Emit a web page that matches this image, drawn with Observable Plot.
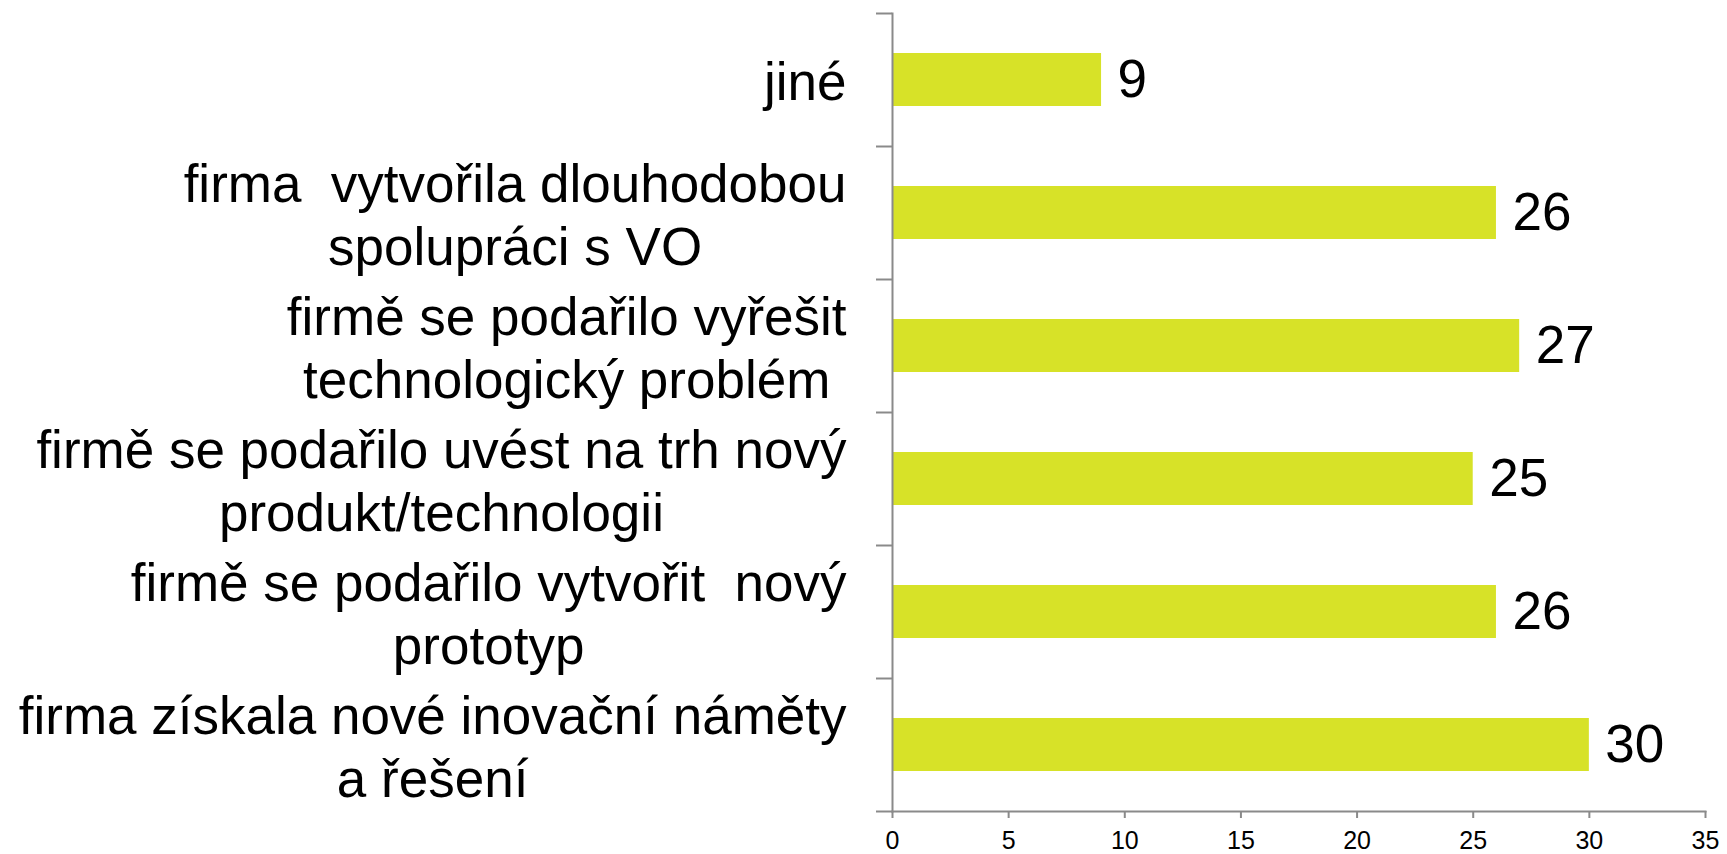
<!DOCTYPE html>
<html>
<head>
<meta charset="utf-8">
<script src="https://cdn.jsdelivr.net/npm/d3@7"></script>
<script src="https://cdn.jsdelivr.net/npm/@observablehq/plot@0.6"></script>
<style>
  body { margin: 0; background: #ffffff; }
  svg text { white-space: pre; }
</style>
</head>
<body>
<div id="chart"></div>
<script>
// Categories (top to bottom) and values
const categories = [
  "jiné",
  "firma  vytvořila dlouhodobou\nspolupráci s VO",
  "firmě se podařilo vyřešit\ntechnologický problém",
  "firmě se podařilo uvést na trh nový\nprodukt/technologii",
  "firmě se podařilo vytvořit  nový\nprototyp",
  "firma získala nové inovační náměty\na řešení"
];
const values = [9, 26, 27, 25, 26, 30];
const xTicks = [0, 5, 10, 15, 20, 25, 30, 35];

const data = categories.map((c, i) => ({ category: c, value: values[i] }));

const FONT = "'Liberation Sans', Arial, sans-serif";
const W = 1727, H = 854;
const mLeft = 892, mRight = 22, mTop = 13, mBottom = 43;
const labelSize = 53;
const band = (H - mTop - mBottom) / categories.length;
const axisColor = "#8a8a8a";
const barColor = "#d7e228";
const labelGap = 46;

const ctx = document.createElement("canvas").getContext("2d");
ctx.font = `${labelSize}px 'Liberation Sans'`;
const blockWidth = t => Math.max(...t.split("\n").map(l => ctx.measureText(l).width));

const chart = Plot.plot({
  width: W,
  height: H,
  marginLeft: mLeft,
  marginRight: mRight,
  marginTop: mTop,
  marginBottom: mBottom,
  style: { fontFamily: FONT, background: "#ffffff", color: "#000000" },
  x: { domain: [0, 35], axis: null },
  y: { domain: categories, padding: 0, axis: null },
  marks: [
    Plot.barX(data, {
      x: "value", y: "category", fill: barColor,
      insetTop: 40, insetBottom: 40
    }),
    Plot.frame({ anchor: "left", stroke: axisColor, strokeWidth: 2 }),
    Plot.frame({ anchor: "bottom", stroke: axisColor, strokeWidth: 2 }),
    // category boundary ticks on the vertical axis
    Plot.axisY(categories, {
      anchor: "left", tickSize: 16, text: null, label: null,
      dy: -band / 2, stroke: axisColor, strokeWidth: 2
    }),
    Plot.axisY([categories[categories.length - 1]], {
      anchor: "left", tickSize: 16, text: null, label: null,
      dy: band / 2, stroke: axisColor, strokeWidth: 2
    }),
    Plot.axisX(xTicks, {
      anchor: "bottom", tickSize: 7, tickPadding: 13, fontSize: 25,
      stroke: axisColor, strokeWidth: 2, fill: "#000000", label: null
    }),
    // value labels
    Plot.text(data, {
      x: "value", y: "category", text: d => String(d.value),
      textAnchor: "start", dx: 16, fontSize: labelSize, fill: "#000000"
    }),
    // category labels, lines centred within a right-aligned block
    ...categories.map(c => Plot.text([c], {
      frameAnchor: "left", y: d => d, text: d => d,
      textAnchor: "middle", lineHeight: 1.19, fontSize: labelSize,
      fill: "#000000", dx: -(labelGap + blockWidth(c) / 2)
    }))
  ]
});

document.getElementById("chart").appendChild(chart);
</script>
</body>
</html>
